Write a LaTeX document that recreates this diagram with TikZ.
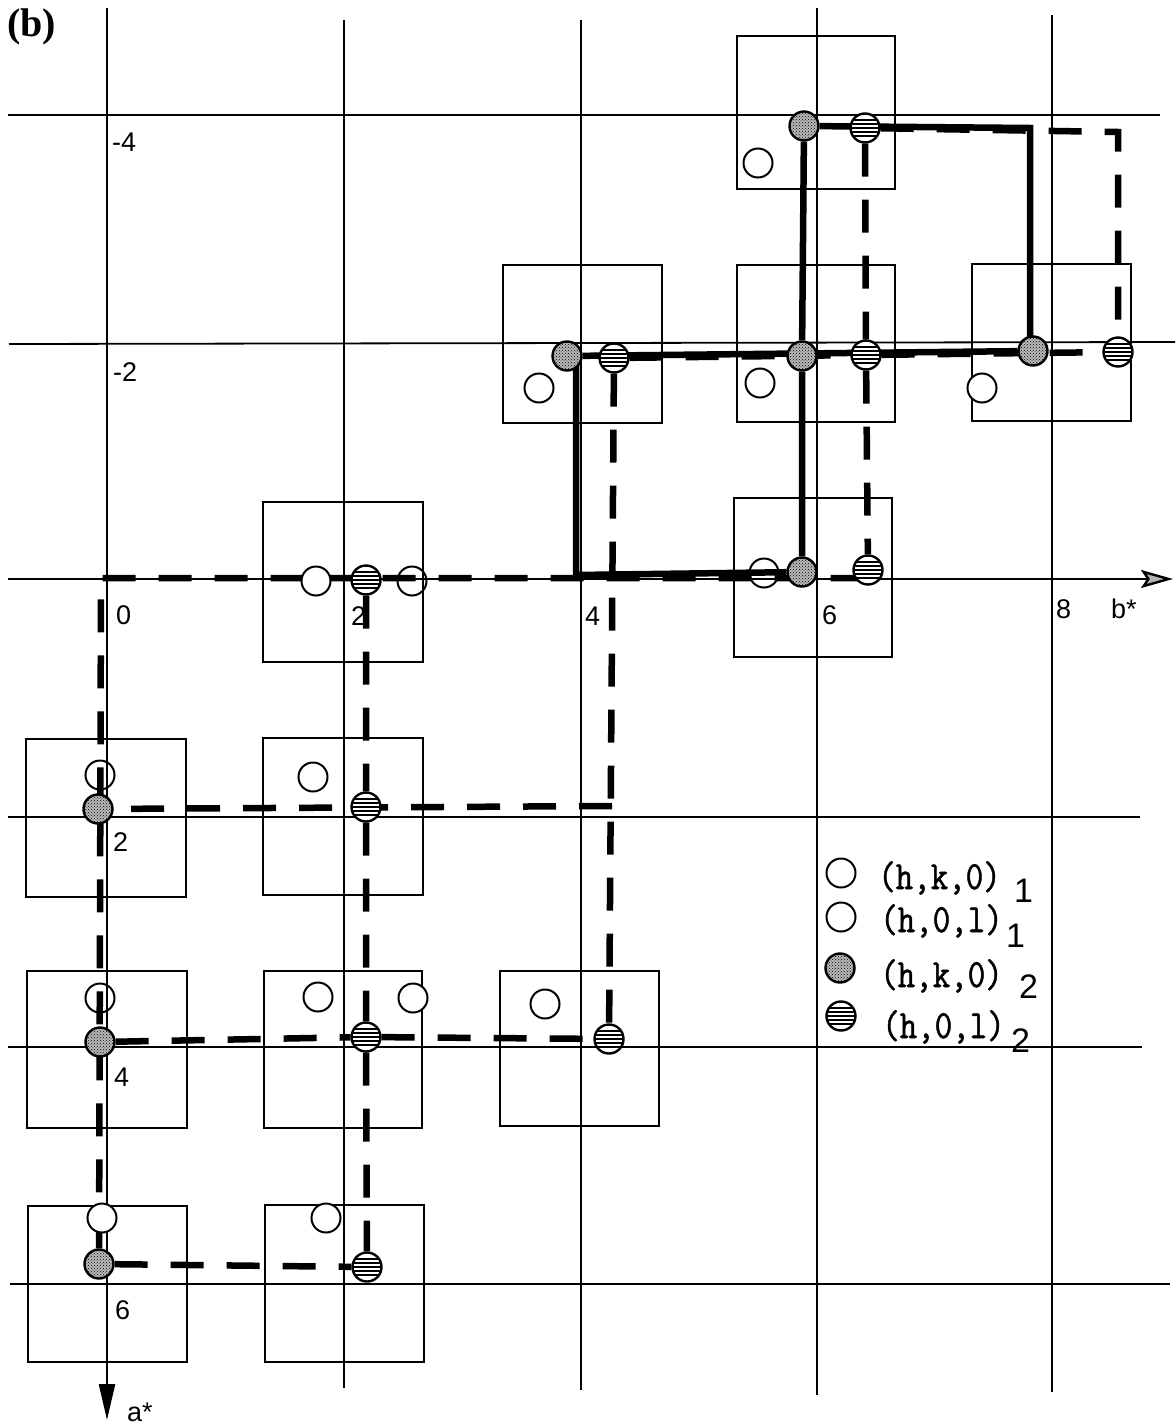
\documentclass[tikz,border=0pt]{standalone}
\usepackage{fontspec}
\setmainfont{Liberation Serif}
\setsansfont{Liberation Sans}
\newfontfamily\lgfont[FakeStretch=0.85,FakeBold=1.2]{Latin Modern Mono}
\usetikzlibrary{arrows.meta,patterns}
\pgfdeclarelayer{bg}
\pgfdeclarelayer{mid}
\pgfsetlayers{bg,mid,main}
\tikzset{
  gridline/.style={line width=1.8pt},
  axisline/.style={line width=2.4pt},
  boxline/.style={line width=1.8pt},
  solidpath/.style={line width=6.5pt},
  dashpath/.style={line width=6.5pt, dash pattern=on 33pt off 23pt},
  opn/.style={circle, draw, line width=2pt, minimum size=29pt, inner sep=0pt, fill=white},
  opnt/.style={circle, draw, line width=2pt, minimum size=29pt, inner sep=0pt},
  dot/.style={circle, draw, line width=2.4pt, minimum size=29pt, inner sep=0pt,
    preaction={fill=gray!55}, pattern=crosshatch dots, pattern color=black},
  hat/.style={circle, draw, line width=2.4pt, minimum size=29pt, inner sep=0pt, fill=white,
    path picture={\foreach \dy in {-8,-4,0,4,8}{\draw[line width=1.3pt]
      ([yshift=\dy pt]path picture bounding box.west) -- ([yshift=\dy pt]path picture bounding box.east);}}},
  axl/.style={font=\fontsize{27}{27}\selectfont\sffamily, inner sep=0pt, anchor=base west},
  lgt/.style={font=\fontsize{40}{40}\selectfont\lgfont, inner sep=0pt, anchor=base west},
  lsub/.style={font=\fontsize{34}{34}\selectfont\sffamily, inner sep=0pt, anchor=base west},
}
\begin{document}
\begin{tikzpicture}[x=1pt,y=-1pt]
\useasboundingbox (0,0) rectangle (1175,1426);
\begin{pgfonlayer}{bg}
  % grid
  \draw[gridline] (344,20) -- (344,1388);
  \draw[gridline] (581,20) -- (581,1390);
  \draw[gridline] (817,8) -- (817,1395);
  \draw[gridline] (1052,15) -- (1052,1392);
  \draw[gridline] (8,115) -- (1160,115);
  \draw[gridline] (9,344) -- (1175,342);
  \draw[gridline] (8,817) -- (1140,817);
  \draw[gridline] (8,1047) -- (1142,1047);
  \draw[gridline] (10,1284) -- (1170,1284);
  \draw[axisline, -{Triangle[length=36pt,width=16pt]}] (107,8) -- (107,1420);
  \draw[axisline, -{Stealth[length=32pt,width=18pt,inset=6pt,fill=gray!60]}] (8,579) -- (1173,579);
  % boxes
  \draw[boxline] (737,36) rectangle (895,189);
  \draw[boxline] (503,265) rectangle (662,423);
  \draw[boxline] (737,265) rectangle (895,422);
  \draw[boxline] (972,264) rectangle (1131,421);
  \draw[boxline] (263,502) rectangle (423,662);
  \draw[boxline] (734,498) rectangle (892,657);
  \draw[boxline] (26,739) rectangle (186,897);
  \draw[boxline] (263,738) rectangle (423,895);
  \draw[boxline] (27,971) rectangle (187,1128);
  \draw[boxline] (264,971) rectangle (422,1128);
  \draw[boxline] (500,971) rectangle (659,1126);
  \draw[boxline] (28,1206) rectangle (187,1362);
  \draw[boxline] (265,1205) rectangle (424,1362);
\end{pgfonlayer}

% spots, row a=-4
\node[opn] (o46) at (758,163) {};
\node[dot] (d46) at (804,126) {};
\node[hat] (h46) at (865,128) {};
% row a=-2
\node[opn] (om24) at (539,388) {};
\node[dot] (dm24) at (567,356) {};
\node[hat] (hm24) at (614,358) {};
\node[opn] (om26) at (760,383) {};
\node[dot] (dm26) at (802,356) {};
\node[hat] (hm26) at (866,355) {};
\node[opn] (om28) at (982,388) {};
\node[dot] (dm28) at (1033,351) {};
\node[hat] (hm28) at (1118,352) {};
% row a=0
\node[opn] (o02a) at (316,581) {};
\node[hat] (h02) at (366,580) {};
\node[opnt] (o02b) at (412,581) {};
\node[opnt] (o06) at (764,573) {};
\node[dot] (d06) at (802,572) {};
\node[hat] (h06) at (868,570) {};
% row a=2
\node[opnt] (o20) at (100,775) {};
\node[dot] (d20) at (98,809) {};
\node[opn] (o22) at (313,777) {};
\node[hat] (h22) at (366,807) {};
% row a=4
\node[opnt] (o40) at (100,998) {};
\node[dot] (d40) at (100,1042) {};
\node[opn] (o42a) at (318,997) {};
\node[hat] (h42) at (366,1037) {};
\node[opn] (o42b) at (413,998) {};
\node[opn] (o44) at (545,1004) {};
\node[hat] (h44) at (609,1039) {};
% row a=6
\node[opn] (o60) at (102,1218) {};
\node[dot] (d60) at (99,1264) {};
\node[opn] (o62) at (326,1218) {};
\node[hat] (h62) at (367,1267) {};

% corner coordinates
\coordinate (cS1) at (576,575);
\coordinate (cS3) at (1030,128);
\coordinate (cO) at (101,578);
\coordinate (cD3) at (612,806);
\coordinate (cD9) at (1118,132);

\begin{pgfonlayer}{mid}
  % (h,k,0)_2 network: solid
  \draw[solidpath] (dm24 -| cS1) -- (cS1) -- (d06);
  \draw[solidpath] (d46) -- (dm26) -- (d06);
  \draw[solidpath] (d46) -- (cS3) -- (cS3 |- dm28);
  \draw[solidpath] (dm24) -- (dm28);
  % (h,0,l)_2 network: dashed
  \draw[dashpath] (d60) -- (cO) -- (h06 |- cO);
  \draw[dashpath] (h02) -- (h22) -- (h42) -- (h62);
  \draw[dashpath] (cD3) -- (d20);
  \draw[dashpath] (hm24) -- (h44);
  \draw[dashpath] (d40) -- (h42) -- (h44);
  \draw[dashpath] (d60) -- (h62);
  \draw[dashpath] (h46) -- (hm26) -- (h06);
  \draw[dashpath] (hm24) -- (hm26) -- (hm28);
  \draw[dashpath] (h46) -- (cD9) -- (hm28);
\end{pgfonlayer}

% labels
\node[inner sep=0pt, anchor=base west, font=\fontsize{40}{40}\selectfont\bfseries] (tb) at (7,37) {(b)};
\node[axl] (ym4) at (112,151) {-4};
\node[axl] (ym2) at (113,381) {-2};
\node[axl] (x0) at (116,624) {0};
\node[axl] (x2) at (351,625) {2};
\node[axl] (x4) at (585,625) {4};
\node[axl] (x6) at (822,624) {6};
\node[axl] (x8) at (1056,618) {8};
\node[axl] (bst) at (1111,618) {b*};
\node[axl] (y2) at (113,851) {2};
\node[axl] (y4) at (114,1086) {4};
\node[axl] (y6) at (115,1319) {6};
\node[axl] (ast) at (127,1421) {a*};

% legend
\node[opn] (lo1) at (841,873) {};
\node[opn] (lo2) at (841,917) {};
\node[dot] (ld) at (840,968) {};
\node[hat] (lh) at (841,1016) {};
\node[lgt] (lt1) at (878,889) {(h,k,0)};
\node[lgt] (lt2) at (880,932) {(h,0,l)};
\node[lgt] (lt3) at (880,987) {(h,k,0)};
\node[lgt] (lt4) at (882,1038) {(h,0,l)};
\node[lsub] (ls1) at (1014,902) {1};
\node[lsub] (ls2) at (1006,947) {1};
\node[lsub] (ls3) at (1019,998) {2};
\node[lsub] (ls4) at (1011,1052) {2};
\end{tikzpicture}
\end{document}
